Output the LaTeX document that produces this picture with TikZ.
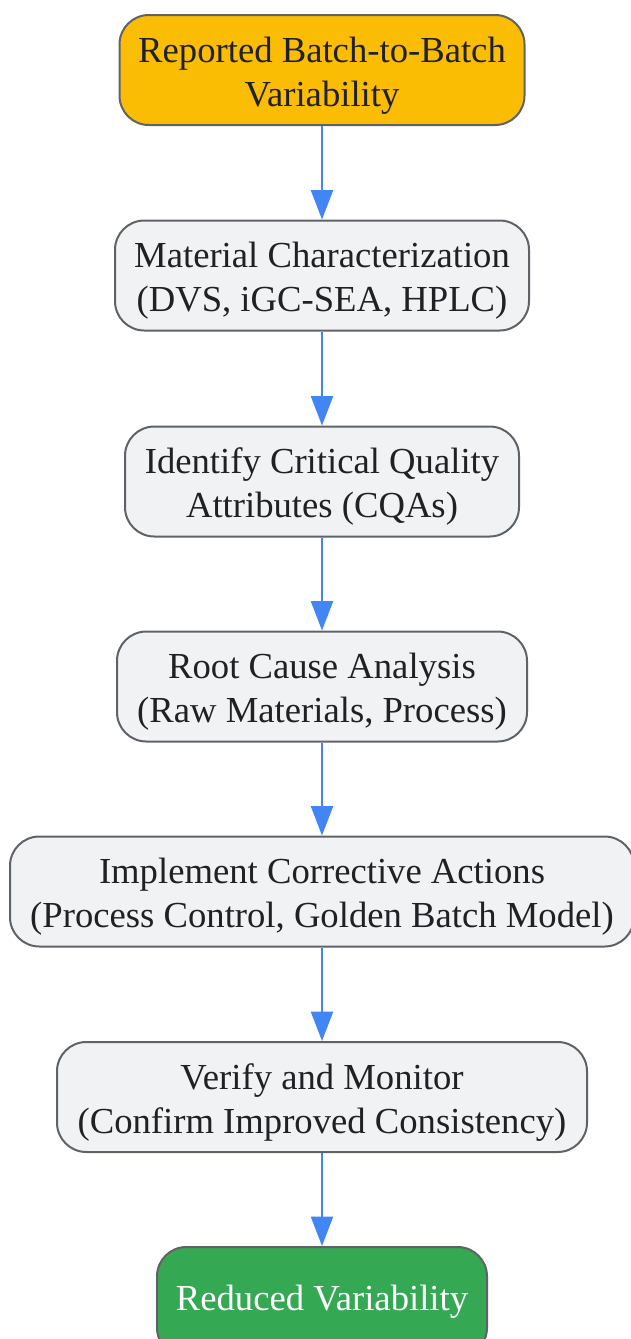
\documentclass[tikz,border=0pt]{standalone}
\usepackage{fontspec}
\setmainfont{Liberation Serif}
\usetikzlibrary{arrows.meta}
\definecolor{boxfill}{HTML}{F1F2F4}
\definecolor{boxline}{HTML}{5F6368}
\definecolor{textc}{HTML}{202124}
\definecolor{arrowc}{HTML}{4285F4}
\definecolor{startfill}{HTML}{FBBC04}
\definecolor{endfill}{HTML}{34A853}
\begin{document}
\begin{tikzpicture}[x=0.75pt,y=-0.75pt,
  box/.style={draw=boxline, line width=1.5pt, rounded corners=22pt, fill=boxfill,
    minimum height=82.5pt, align=center, font=\fontsize{27.5}{33}\selectfont,
    text=textc, inner sep=0pt},
  twoline/.style={box, text height=57pt, text depth=3pt},
  arr/.style={draw=arrowc, line width=1.5pt, -{Triangle[length=22pt,width=16.5pt]}}]
\useasboundingbox (0,0) rectangle (631,1339);
\node[twoline, fill=startfill, minimum width={405*0.75pt}] (a) at (322,70) {Reported Batch-to-Batch\\Variability};
\node[twoline, minimum width={414*0.75pt}] (b) at (322,275.5) {Material Characterization\\(DVS, iGC-SEA, HPLC)};
\node[twoline, minimum width={394*0.75pt}] (c) at (322,481.5) {Identify Critical Quality\\Attributes (CQAs)};
\node[twoline, minimum width={410*0.75pt}] (d) at (322,686.5) {Root Cause Analysis\\(Raw Materials, Process)};
\node[twoline, minimum width={624*0.75pt}] (e) at (322,891.5) {Implement Corrective Actions\\(Process Control, Golden Batch Model)};
\node[twoline, minimum width={530*0.75pt}] (f) at (322,1097) {Verify and Monitor\\(Confirm Improved Consistency)};
\node[box, fill=endfill, text=white, minimum width={330*0.75pt}] (g) at (322,1302) {Reduced Variability};
\draw[arr] (a) -- (b);
\draw[arr] (b) -- (c);
\draw[arr] (c) -- (d);
\draw[arr] (d) -- (e);
\draw[arr] (e) -- (f);
\draw[arr] (f) -- (g);
\end{tikzpicture}
\end{document}
